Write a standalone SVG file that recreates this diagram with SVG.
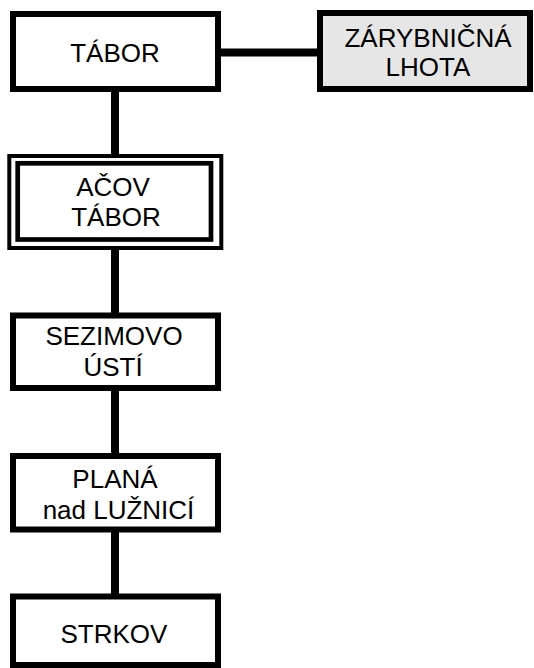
<svg xmlns="http://www.w3.org/2000/svg" width="534" height="668" viewBox="0 0 534 668">
<style>
.box{fill:#fff;stroke:#000;stroke-width:6}
.grey{fill:#e6e6e6}
.t{font-family:"Liberation Sans",Arial,sans-serif;font-size:26px;fill:#000;text-anchor:middle}
.c{stroke:#000;stroke-width:8;fill:none}
</style>
<rect width="534" height="668" fill="#fff"/>
<g id="connectors">
<line class="c" x1="221" y1="52.5" x2="317" y2="52.5"/>
<line class="c" x1="115" y1="92" x2="115" y2="154"/>
<line class="c" x1="115" y1="250" x2="115" y2="313"/>
<line class="c" x1="115" y1="391" x2="115" y2="453"/>
<line class="c" x1="115" y1="532" x2="115" y2="594"/>
</g>
<g id="tabor">
<rect class="box" x="13" y="14" width="205" height="75"/>
<text class="t" x="115" y="62">TÁBOR</text>
</g>
<g id="zarybnicna">
<rect class="box grey" x="320" y="13" width="210" height="76"/>
<text class="t" x="428" y="47">ZÁRYBNIČNÁ</text>
<text class="t" x="428" y="76">LHOTA</text>
</g>
<g id="acov">
<rect x="9.3" y="156" width="212" height="92" fill="#fff" stroke="#000" stroke-width="4"/>
<rect x="17.7" y="163.3" width="193.3" height="76.2" fill="#fff" stroke="#000" stroke-width="4.7"/>
<text class="t" x="113" y="196">AČOV</text>
<text class="t" x="116" y="226">TÁBOR</text>
</g>
<g id="sezimovo">
<rect class="box" x="13" y="315.5" width="205" height="72.5"/>
<text class="t" x="114" y="345">SEZIMOVO</text>
<text class="t" x="113" y="376">ÚSTÍ</text>
</g>
<g id="plana">
<rect class="box" x="13" y="456" width="205" height="73.5"/>
<text class="t" x="115" y="488">PLANÁ</text>
<text class="t" x="118.5" y="519">nad LUŽNICÍ</text>
</g>
<g id="strkov">
<rect class="box" x="13" y="596.5" width="205" height="68.5"/>
<text class="t" x="114" y="643">STRKOV</text>
</g>
</svg>
